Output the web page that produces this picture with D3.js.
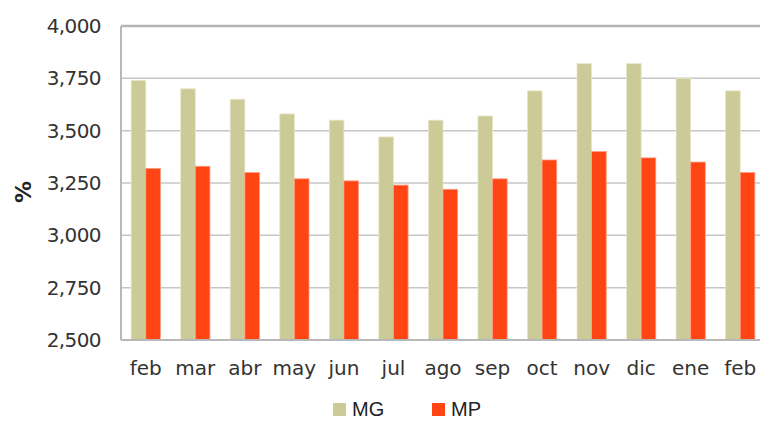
<!DOCTYPE html>
<html>
<head>
<meta charset="utf-8">
<script src="https://cdn.jsdelivr.net/npm/d3@7"></script>
<style>
  body { margin: 0; background: #fff; }
  svg { display: block; font-family: "DejaVu Sans", sans-serif; }
</style>
</head>
<body>
<div id="chart"></div>
<script>
// data
var months = ["feb", "mar", "abr", "may", "jun", "jul", "ago", "sep", "oct", "nov", "dic", "ene", "feb"];
var mgValues = [3740, 3700, 3650, 3580, 3550, 3470, 3550, 3570, 3690, 3820, 3820, 3750, 3690];
var mpValues = [3320, 3330, 3300, 3270, 3260, 3240, 3220, 3270, 3360, 3400, 3370, 3350, 3300];
var yTicks = [2500, 2750, 3000, 3250, 3500, 3750, 4000];
var seriesNames = ["MG", "MP"];
var colors = ["#cccb98", "#fe4513"];

var data = months.map(function(m, i) {
  return { key: i, name: m, values: [mgValues[i], mpValues[i]] };
});

var width = 760, height = 421;
var plot = { left: 121, top: 26, right: 765, bottom: 340 };

var svg = d3.select("#chart").append("svg")
    .attr("width", width)
    .attr("height", height);

var x = d3.scaleBand()
    .domain(data.map(function(d) { return d.key; }))
    .range([plot.left, plot.right])
    .paddingInner(0.41)
    .paddingOuter(0.205);

var xs = d3.scaleBand()
    .domain([0, 1])
    .range([0, x.bandwidth()]);

var y = d3.scaleLinear()
    .domain([2500, 4000])
    .range([plot.bottom, plot.top]);

// gridlines
svg.append("g")
  .selectAll("line")
  .data(yTicks)
  .enter().append("line")
    .attr("x1", plot.left)
    .attr("x2", plot.right)
    .attr("y1", function(d) { return y(d); })
    .attr("y2", function(d) { return y(d); })
    .attr("stroke", function(d) { return d === 4000 ? "#b5b5b5" : "#c6c6c6"; })
    .attr("stroke-width", function(d) { return d === 4000 ? 2.5 : 1.5; });

// bars
var groups = svg.append("g")
  .selectAll("g")
  .data(data)
  .enter().append("g")
    .attr("transform", function(d) { return "translate(" + x(d.key) + ",0)"; });

groups.selectAll("rect")
  .data(function(d) { return d.values.map(function(v, i) { return { s: i, v: v }; }); })
  .enter().append("rect")
    .attr("x", function(d) { return xs(d.s); })
    .attr("width", xs.bandwidth())
    .attr("y", function(d) { return y(d.v); })
    .attr("height", function(d) { return y(2500) - y(d.v); })
    .attr("fill", function(d) { return colors[d.s]; })
    .attr("stroke", function(d) { return d.s === 0 ? "#e6e6c8" : "#ff9c80"; })
    .attr("stroke-width", 0.8);

// plot frame (left + bottom)
svg.append("line")
    .attr("x1", plot.left).attr("x2", plot.left)
    .attr("y1", plot.top).attr("y2", plot.bottom)
    .attr("stroke", "#b8b8b8").attr("stroke-width", 2);
svg.append("line")
    .attr("x1", plot.left).attr("x2", plot.right)
    .attr("y1", plot.bottom).attr("y2", plot.bottom)
    .attr("stroke", "#b8b8b8").attr("stroke-width", 2);

// y axis labels
var yAxis = svg.append("g")
    .attr("transform", "translate(" + (plot.left - 20) + ",0)")
    .call(d3.axisLeft(y).tickValues(yTicks).tickSize(0).tickFormat(d3.format(",")));
yAxis.select(".domain").remove();
yAxis.selectAll("text")
    .attr("x", 0)
    .attr("fill", "#333")
    .style("font-size", "20px")
    .style("font-family", "DejaVu Sans, sans-serif")
    .style("letter-spacing", "-0.6px");

// x axis labels
var xAxis = svg.append("g")
    .attr("transform", "translate(0," + plot.bottom + ")")
    .call(d3.axisBottom(x).tickSize(0).tickFormat(function(k) { return months[k]; }));
xAxis.select(".domain").remove();
xAxis.selectAll("text")
    .attr("y", 21)
    .attr("fill", "#333")
    .style("font-size", "20px")
    .style("font-family", "DejaVu Sans, sans-serif");

// y axis title
svg.append("text")
    .attr("transform", "translate(31,192) rotate(-90)")
    .attr("text-anchor", "middle")
    .style("font-size", "22px")
    .style("font-weight", "bold")
    .attr("fill", "#222")
    .text("%");

// legend
var legendX = [333, 432];
var legend = svg.append("g")
  .selectAll("g")
  .data(seriesNames)
  .enter().append("g")
    .attr("transform", function(d, i) { return "translate(" + legendX[i] + ",403)"; });
legend.append("rect")
    .attr("width", 13).attr("height", 13)
    .attr("fill", function(d, i) { return colors[i]; });
legend.append("text")
    .attr("x", 19).attr("y", 13)
    .style("font-size", "20px")
    .style("font-family", "Liberation Sans, sans-serif")
    .attr("fill", "#222")
    .text(function(d) { return d; });
</script>
</body>
</html>
